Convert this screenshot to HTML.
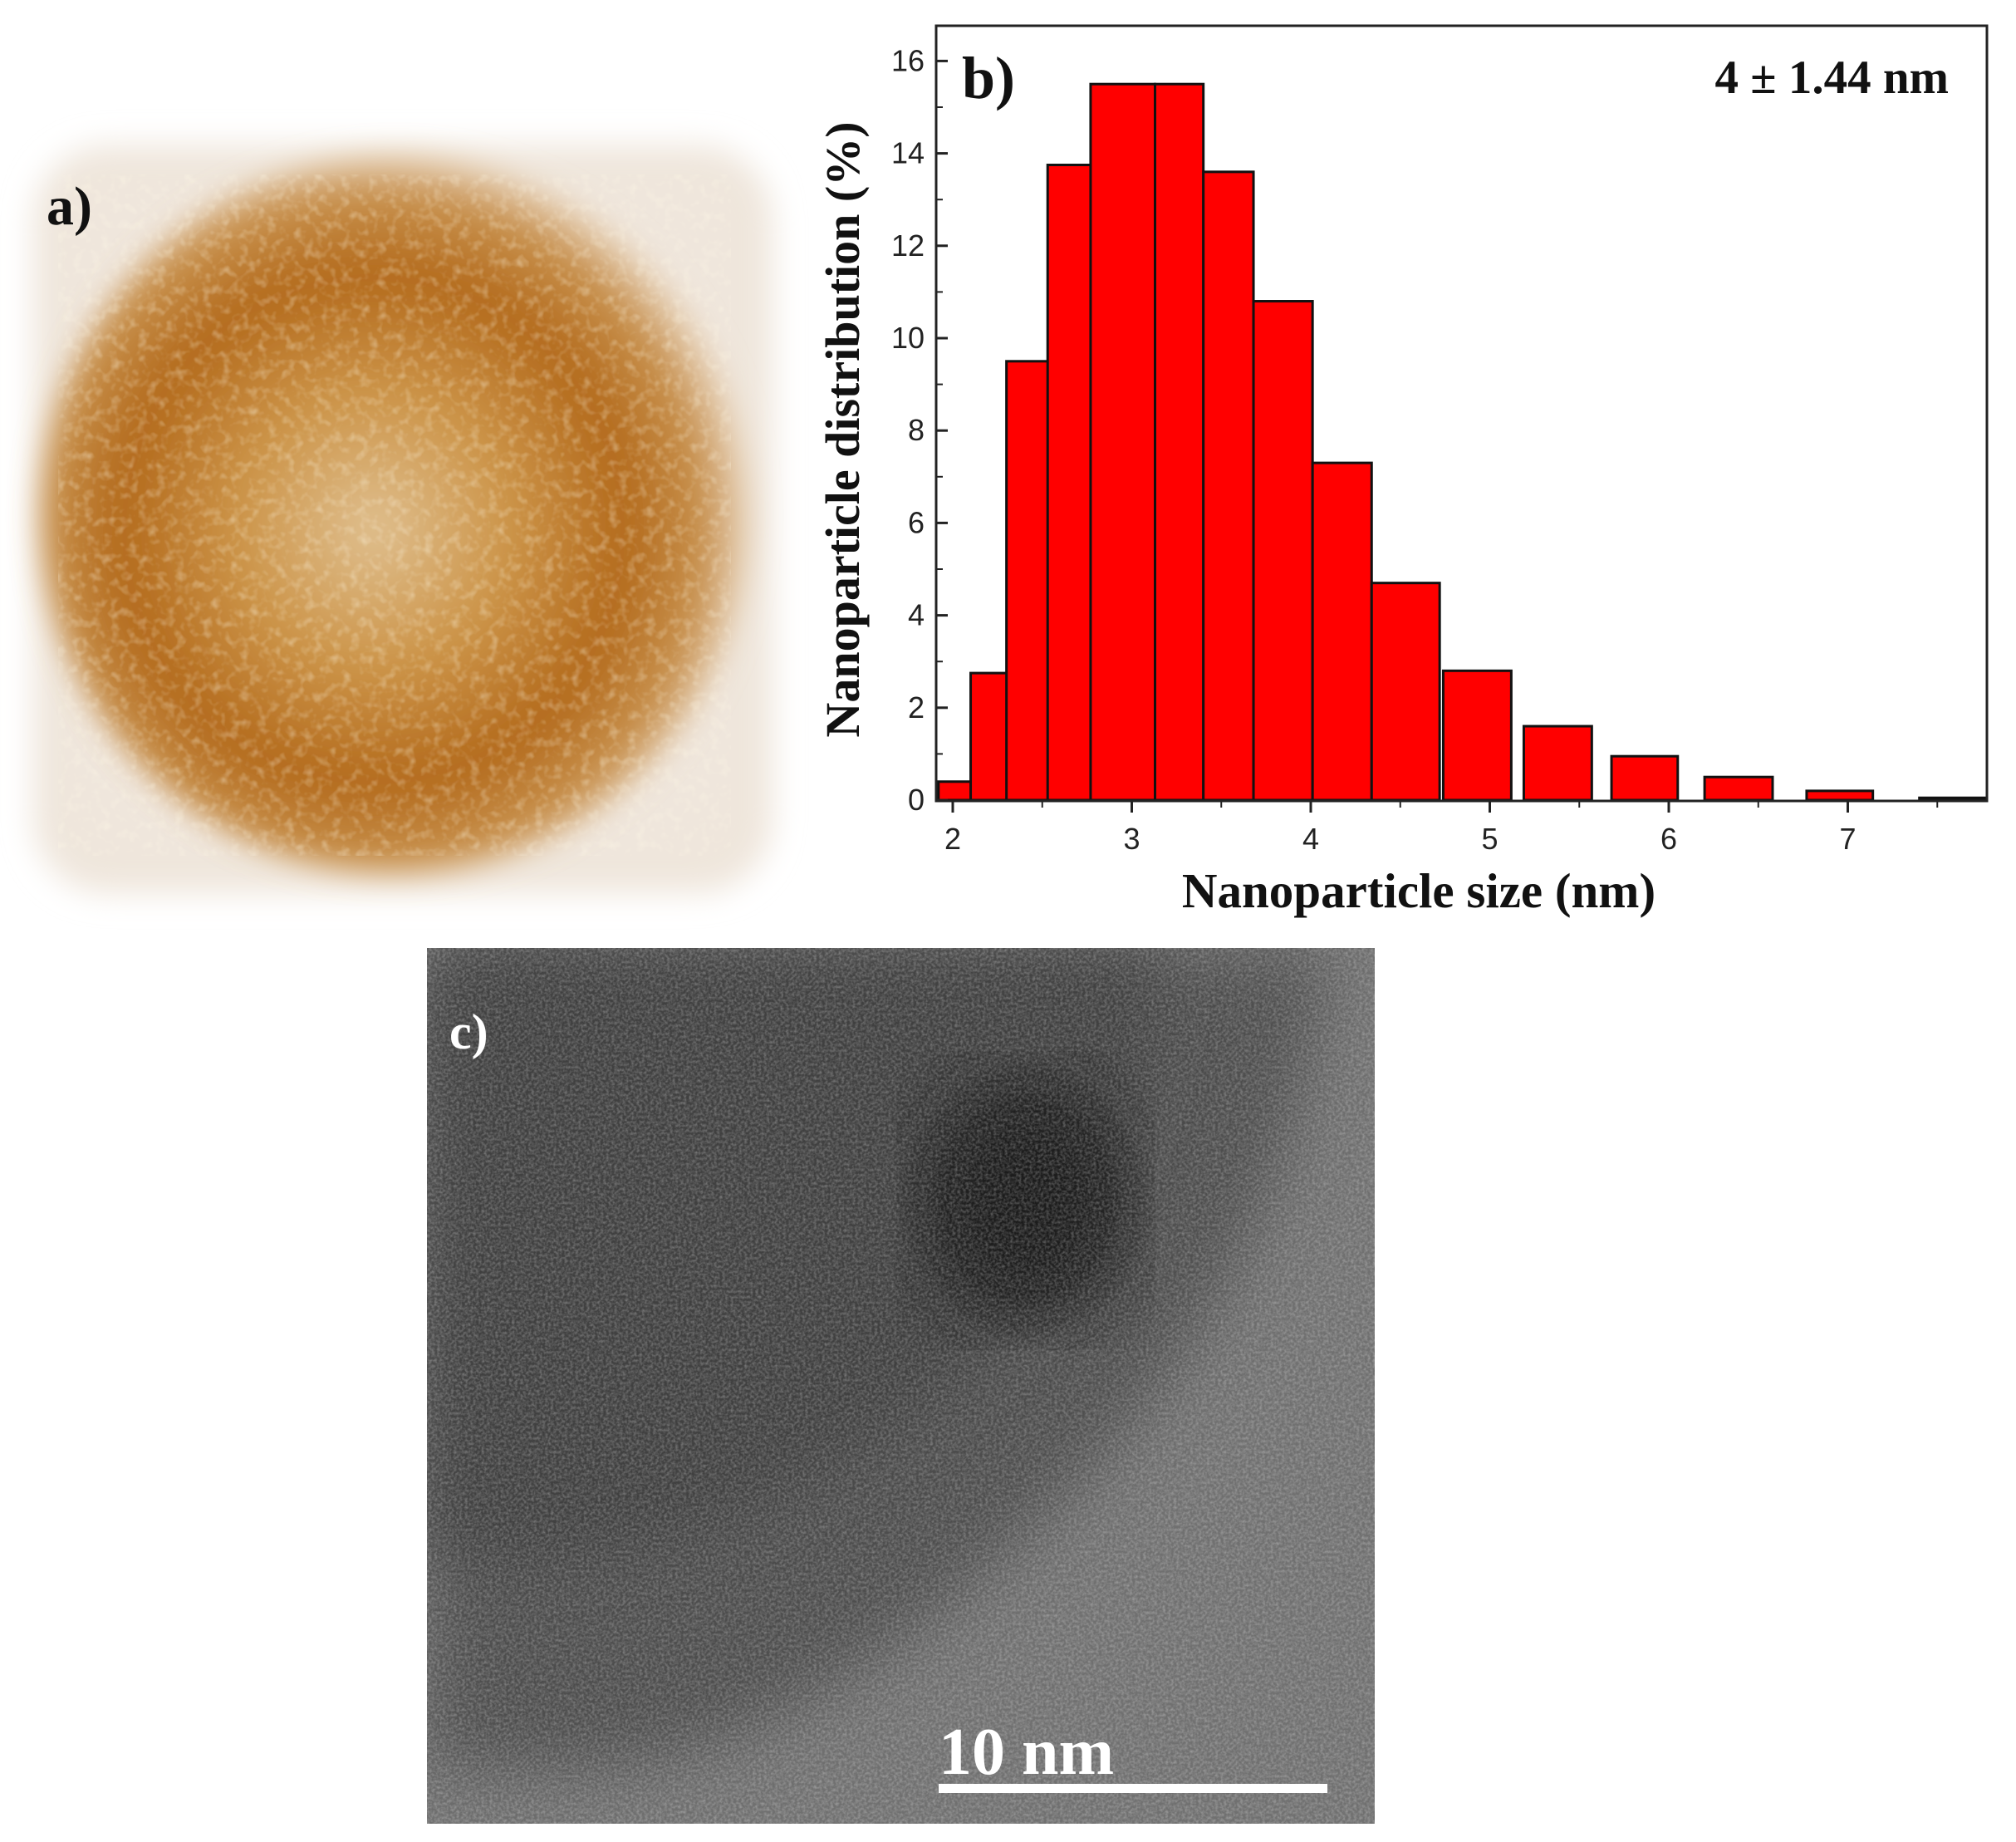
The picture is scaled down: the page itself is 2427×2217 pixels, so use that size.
<!DOCTYPE html>
<html><head><meta charset="utf-8"><style>
html,body{margin:0;padding:0;background:#fff;}
body{width:2427px;height:2217px;position:relative;overflow:hidden;}
svg{position:absolute;left:0;top:0;}
</style></head><body>
<svg id="fig" width="2427" height="2217" viewBox="0 0 2427 2217">
<defs>
  <radialGradient id="photoGrad" cx="0.47" cy="0.52" r="0.55">
    <stop offset="0" stop-color="#e0c090"/>
    <stop offset="0.35" stop-color="#cc9448"/>
    <stop offset="0.65" stop-color="#b36a1c"/>
    <stop offset="0.85" stop-color="#c8914c"/>
    <stop offset="1" stop-color="#f2e8dc"/>
  </radialGradient>
  <filter id="blurEdge" x="-10%" y="-10%" width="120%" height="120%"><feGaussianBlur stdDeviation="18"/></filter>
  <filter id="speckle" x="0" y="0" width="100%" height="100%">
    <feTurbulence type="fractalNoise" baseFrequency="0.09" numOctaves="2" seed="3"/>
    <feColorMatrix type="matrix" values="0 0 0 0 1  0 0 0 0 0.95  0 0 0 0 0.8  0 0 0 1.6 -0.75"/>
  </filter>
  <filter id="temNoise" x="0" y="0" width="100%" height="100%">
    <feTurbulence type="fractalNoise" baseFrequency="0.3" numOctaves="2" seed="7"/>
    <feColorMatrix type="matrix" values="0 0 0 0 1  0 0 0 0 1  0 0 0 0 1  0 0 0 0.9 -0.3"/>
  </filter>
  <filter id="softBlur"><feGaussianBlur stdDeviation="40"/></filter>
  <clipPath id="temClip"><rect x="514" y="1141" width="1141" height="1054"/></clipPath>
</defs>

<g>
  <rect x="40" y="175" width="890" height="900" rx="90" fill="#efe6dc" filter="url(#blurEdge)"/>
  <ellipse cx="475" cy="620" rx="425" ry="430" fill="url(#photoGrad)" filter="url(#blurEdge)"/>
  <ellipse cx="475" cy="620" rx="405" ry="410" fill="#fff" filter="url(#speckle)" opacity="0.5"/>
</g>
<text x="56" y="270" font-family="Liberation Serif, serif" font-weight="bold" font-size="66" fill="#111">a)</text>

<g id="chart"></g>

<g clip-path="url(#temClip)">
  <rect x="514" y="1141" width="1141" height="1054" fill="#707070"/>
  <path d="M514 1141 L1600 1141 C1560 1400 1480 1600 1280 1800 C1100 1980 900 2120 700 2130 L514 2130 Z" fill="#4e4e4e" filter="url(#softBlur)"/>
  <path d="M514 1141 L1400 1141 C1380 1350 1300 1550 1100 1700 C900 1850 700 1900 514 1870 Z" fill="#404040" filter="url(#softBlur)"/>
  <ellipse cx="1235" cy="1445" rx="130" ry="150" fill="#1e1e1e" filter="url(#softBlur)"/>
  <rect x="514" y="1141" width="1141" height="1054" fill="#fff" filter="url(#temNoise)" opacity="0.55"/>
  <rect x="1130" y="2147" width="468" height="11" fill="#fff"/>
  <text x="1130" y="2135" font-family="Liberation Serif, serif" font-weight="bold" font-size="80" fill="#fff">10 nm</text>
  <text x="541" y="1262" font-family="Liberation Serif, serif" font-weight="bold" font-size="60" fill="#fff">c)</text>
</g>
</svg>
<script>
const binStart = [1.92,2.10,2.30,2.53,2.77,3.13,3.40,3.68,4.01,4.34,4.74,5.19,5.68,6.20,6.77,7.40];
const binEnd   = [2.28,2.46,2.66,2.89,3.13,3.40,3.68,4.01,4.34,4.72,5.12,5.57,6.05,6.58,7.14,7.78];
const binValue = [0.4,2.75,9.5,13.75,15.5,15.5,13.6,10.8,7.3,4.7,2.8,1.6,0.95,0.5,0.2,0.05];
const xTicks = [2,3,4,5,6,7];
const yTicks = [0,2,4,6,8,10,12,14,16];

const NS='http://www.w3.org/2000/svg';
const g=document.getElementById('chart');
const L=1127,R=2392,T=31,B=964;
const xs=v=>1147+(v-2)*215.5;
const ys=v=>963-v*55.6;
function mk(tag,attrs,parent){const e=document.createElementNS(NS,tag);for(const k in attrs)e.setAttribute(k,attrs[k]);(parent||g).appendChild(e);return e;}

for(let i=0;i<binValue.length;i++){
  const x0=Math.max(xs(binStart[i]),L),x1=Math.min(xs(binEnd[i]),R);
  const r=mk('rect',{x:x0,y:ys(binValue[i]),width:x1-x0,height:ys(0)-ys(binValue[i]),fill:'#ff0000',stroke:'#111','stroke-width':3});
  
  
}
const frame=mk('rect',{x:L,y:T,width:R-L,height:B-T,fill:'none',stroke:'#222','stroke-width':3});



yTicks.forEach(v=>{
  const y=ys(v);
  const tk=mk('line',{x1:L,x2:L+14,y1:y,y2:y,stroke:'#222','stroke-width':3});
  
  
  if(v<16){const m=mk('line',{x1:L,x2:L+8,y1:ys(v+1),y2:ys(v+1),stroke:'#222','stroke-width':2});
    
    }
  const t=mk('text',{x:L-14,y:y+12,'text-anchor':'end','font-family':'Liberation Sans, sans-serif','font-size':36,fill:'#222'});
  t.textContent=v;
  
  
});
xTicks.forEach(v=>{
  const x=xs(v);
  const tk=mk('line',{x1:x,x2:x,y1:B,y2:B+14,stroke:'#222','stroke-width':3});
  
  
  const m=mk('line',{x1:xs(v+0.5),x2:xs(v+0.5),y1:B,y2:B+8,stroke:'#222','stroke-width':2});
  
  
  const t=mk('text',{x:x,y:B+58,'text-anchor':'middle','font-family':'Liberation Sans, sans-serif','font-size':36,fill:'#222'});
  t.textContent=v;
  
  
});
const xt=mk('text',{x:1708,y:1092,'text-anchor':'middle','font-family':'Liberation Serif, serif','font-weight':'bold','font-size':59,fill:'#111'});
xt.textContent='Nanoparticle size (nm)';


const yt=mk('text',{x:0,y:0,transform:'translate(1034,517) rotate(-90)','text-anchor':'middle','font-family':'Liberation Serif, serif','font-weight':'bold','font-size':58,fill:'#111'});
yt.textContent='Nanoparticle distribution (%)';


const bl=mk('text',{x:1158,y:118,'font-family':'Liberation Serif, serif','font-weight':'bold','font-size':72,fill:'#111'});
bl.textContent='b)';


const an=mk('text',{x:2346,y:112,'text-anchor':'end','font-family':'Liberation Serif, serif','font-weight':'bold','font-size':57,fill:'#111'});
an.textContent='4 ± 1.44 nm';


</script>
</body></html>
